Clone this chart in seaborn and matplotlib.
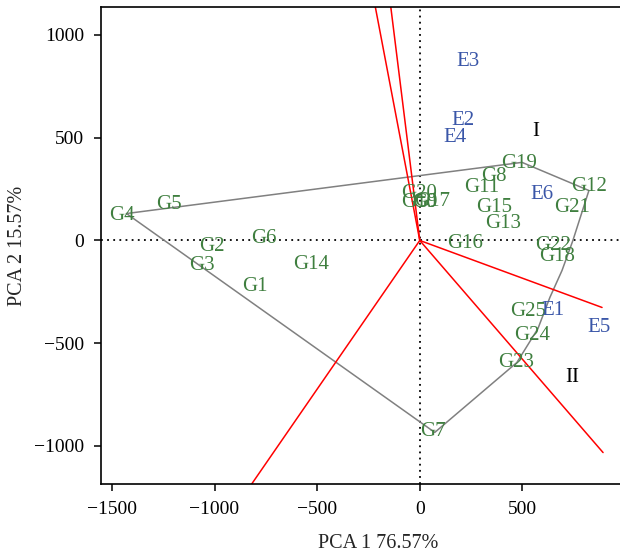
import numpy as np
import pandas as pd
import matplotlib
matplotlib.use("Agg")
import matplotlib.pyplot as plt
import seaborn as sns

# genotype scores (PCA 1, PCA 2)
geno_names = ["G1", "G2", "G3", "G4", "G5", "G6", "G7", "G8", "G9", "G10",
              "G11", "G12", "G13", "G14", "G15", "G16", "G17", "G18", "G19",
              "G20", "G21", "G22", "G23", "G24", "G25"]
geno_x = [-805, -1015, -1063, -1449, -1224, -761, 63, 361, 25, -5,
          302, 824, 405, -527, 361, 220, 60, 668, 483,
          -2, 741, 649, 468, 546, 527]
geno_y = [-224, -29, -122, 122, 175, 10, -929, 311, 183, 183,
          258, 263, 83, -117, 161, -15, 188, -78, 375,
          228, 161, -24, -594, -462, -345]

# environment scores
env_names = ["E1", "E2", "E3", "E4", "E5", "E6"]
env_x = [649, 210, 234, 171, 873, 595]
env_y = [-341, 584, 871, 501, -423, 224]

# mega-environment sectors
sector_names = ["I", "II"]
sector_x = [566, 741]
sector_y = [530, -667]

# polygon (hull) vertices
hull_x = [-1429, 498, 824, 746, 693, 634, 576, 473, 73, -1429]
hull_y = [131, 380, 243, 0, -146, -277, -428, -594, -934, 131]

# rays from origin perpendicular to polygon sides
ray_x = [-227, -148, 888, 893, -850]
ray_y = [1191, 1191, -326, -1032, -1230]

green = "#3f7f3f"
blue = "#3a56a8"

sns.set_style("ticks")
plt.rcParams["font.family"] = ["Liberation Serif", "DejaVu Serif"]

fig = plt.figure(figsize=(6.2, 5.53), dpi=100)
ax = fig.add_axes([101 / 620, 69 / 553, 554 / 620, 477 / 553])

hull_df = pd.DataFrame({"x": hull_x, "y": hull_y, "order": range(len(hull_x))})
sns.lineplot(data=hull_df, x="x", y="y", sort=False, estimator=None,
             color="gray", lw=1.1, ax=ax)

rays = pd.DataFrame({
    "x": np.ravel([[0, rx] for rx in ray_x]),
    "y": np.ravel([[0, ry] for ry in ray_y]),
    "ray": np.repeat(np.arange(len(ray_x)), 2),
})
sns.lineplot(data=rays, x="x", y="y", units="ray", estimator=None, sort=False,
             color="red", lw=1.1, ax=ax)

ax.axhline(0, color="black", lw=1.3, ls=(0, (1, 2.4)), zorder=0)
ax.axvline(0, color="black", lw=1.3, ls=(0, (1, 2.4)), zorder=0)

for n, x, y in zip(geno_names, geno_x, geno_y):
    ax.text(x, y, n, color=green, fontsize=15, ha="center", va="center")
for n, x, y in zip(env_names, env_x, env_y):
    ax.text(x, y, n, color=blue, fontsize=15, ha="center", va="center")
for n, x, y in zip(sector_names, sector_x, sector_y):
    ax.text(x, y, n, color="black", fontsize=15, ha="center", va="center")

ax.set_xlim(-1553, 1146)
ax.set_ylim(-1185, 1136)
ax.set_xticks([-1500, -1000, -500, 0, 500])
ax.set_yticks([-1000, -500, 0, 500, 1000])
ax.tick_params(axis="both", labelsize=14, length=5, width=1.1, pad=7,
               color="black", labelcolor="black")
for side in ["left", "bottom", "top"]:
    ax.spines[side].set_color("black")
    ax.spines[side].set_linewidth(1.2)
ax.spines["right"].set_visible(False)

ax.set_xlabel("PCA 1 76.57%", fontsize=14.5)
ax.set_ylabel("PCA 2 15.57%", fontsize=14.5)
ax.xaxis.set_label_coords((378 - 101) / 554, -0.105)
ax.yaxis.set_label_coords(-(101 - 27) / 554, 0.5)

fig.savefig("out.png", dpi=100)
